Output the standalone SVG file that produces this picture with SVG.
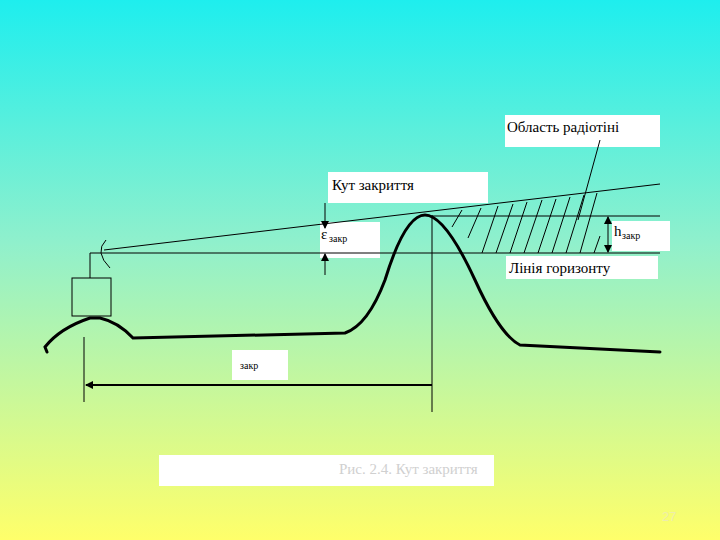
<svg xmlns="http://www.w3.org/2000/svg" width="720" height="540" viewBox="0 0 720 540">
<defs>
<linearGradient id="bg" x1="0" y1="0" x2="0" y2="1">
<stop offset="0" stop-color="#1EEEEE"/><stop offset="0.45" stop-color="#90F0CC"/><stop offset="1" stop-color="#FFFF6A"/>
</linearGradient>
<marker id="ah" markerWidth="8" markerHeight="8" refX="7" refY="4" orient="auto" markerUnits="userSpaceOnUse"><path d="M0,0 L8,4 L0,8 Z" fill="#000"/></marker>
</defs>
<style>
.t{font-family:'Liberation Serif','Times New Roman','DejaVu Serif',serif;font-size:15px;fill:#000}
.s{font-family:'Liberation Serif','Times New Roman','DejaVu Serif',serif;font-size:10px;fill:#000}
.box{fill:#fff}
.ln{stroke:#000;stroke-width:1;fill:none}
.th{stroke:#000;stroke-width:3;fill:none;stroke-linecap:round}
</style>
<rect width="720" height="540" fill="url(#bg)"/>
<g id="labels">
<g id="shadow"><rect class="box" x="505" y="115" width="155" height="32"/><text class="t" x="507" y="132">Область радіотіні</text></g>
<g id="angle"><rect class="box" x="328" y="172" width="160" height="31"/><text class="t" x="332" y="190">Кут закриття</text></g>
<g id="eps"><rect class="box" x="320" y="222" width="60" height="36"/><text class="t" x="321" y="239">ε</text><text class="s" x="329" y="242">закр</text></g>
<g id="h"><rect class="box" x="612" y="221" width="58" height="30"/><text class="t" x="614" y="236">h</text><text class="s" x="622" y="239">закр</text></g>
<g id="horizon"><rect class="box" x="506" y="256" width="152" height="23"/><text class="t" x="509" y="273">Лінія горизонту</text></g>
<g id="dist"><rect class="box" x="232" y="350" width="56" height="30"/><text class="s" x="240" y="369">закр</text></g>
<g id="caption"><rect class="box" x="159" y="455" width="335" height="31"/><text class="t" x="339" y="474" style="fill:#d0d0d0">Рис. 2.4. Кут закриття</text></g>
<text x="662" y="521" font-family="Liberation Sans,sans-serif" font-size="13" fill="#eeeeaa">27</text>
</g>
<g id="connectors">
<line class="ln" x1="103" y1="253" x2="660" y2="253"/>
<line class="ln" x1="104" y1="250" x2="660" y2="184"/>
<path class="ln" d="M106,240 Q94,252 110,268"/>
<polyline class="ln" points="103,253 90,253 90,278"/>
<rect class="ln" x="72" y="278" width="39" height="38"/>
<path class="th" d="M47,352 L45,347 Q60,328 90,318 L100,318 Q118,322 133,338 L345,333 Q368,325 385,280 Q405,215 425,215 Q445,215 475,280 Q500,335 520,345 L660,352"/>
<line class="ln" x1="432" y1="215" x2="432" y2="412"/>
<line class="ln" x1="84" y1="337" x2="84" y2="402"/>
<line class="ln" x1="432" y1="385" x2="86" y2="385" marker-end="url(#ah)" style="stroke-width:2"/>
<line class="ln" x1="325" y1="203" x2="325" y2="228" marker-end="url(#ah)"/>
<line class="ln" x1="325" y1="275" x2="325" y2="254" marker-end="url(#ah)"/>
<line class="ln" x1="608" y1="235" x2="608" y2="217" marker-end="url(#ah)"/>
<line class="ln" x1="608" y1="235" x2="608" y2="252" marker-end="url(#ah)"/>
<line class="ln" x1="432" y1="216" x2="660" y2="216"/>
<line class="ln" x1="600" y1="140" x2="578" y2="220"/>
<path class="ln" d="M452,227 L462,210 M468,238 L481,208 M482,253 L498,206 M496,253 L513,204 M510,253 L527,202 M524,253 L542,200 M538,253 L556,199 M552,253 L570,197 M566,253 L584,195 M580,253 L597,193 M594,253 L600,236"/>
</g>
</svg>
